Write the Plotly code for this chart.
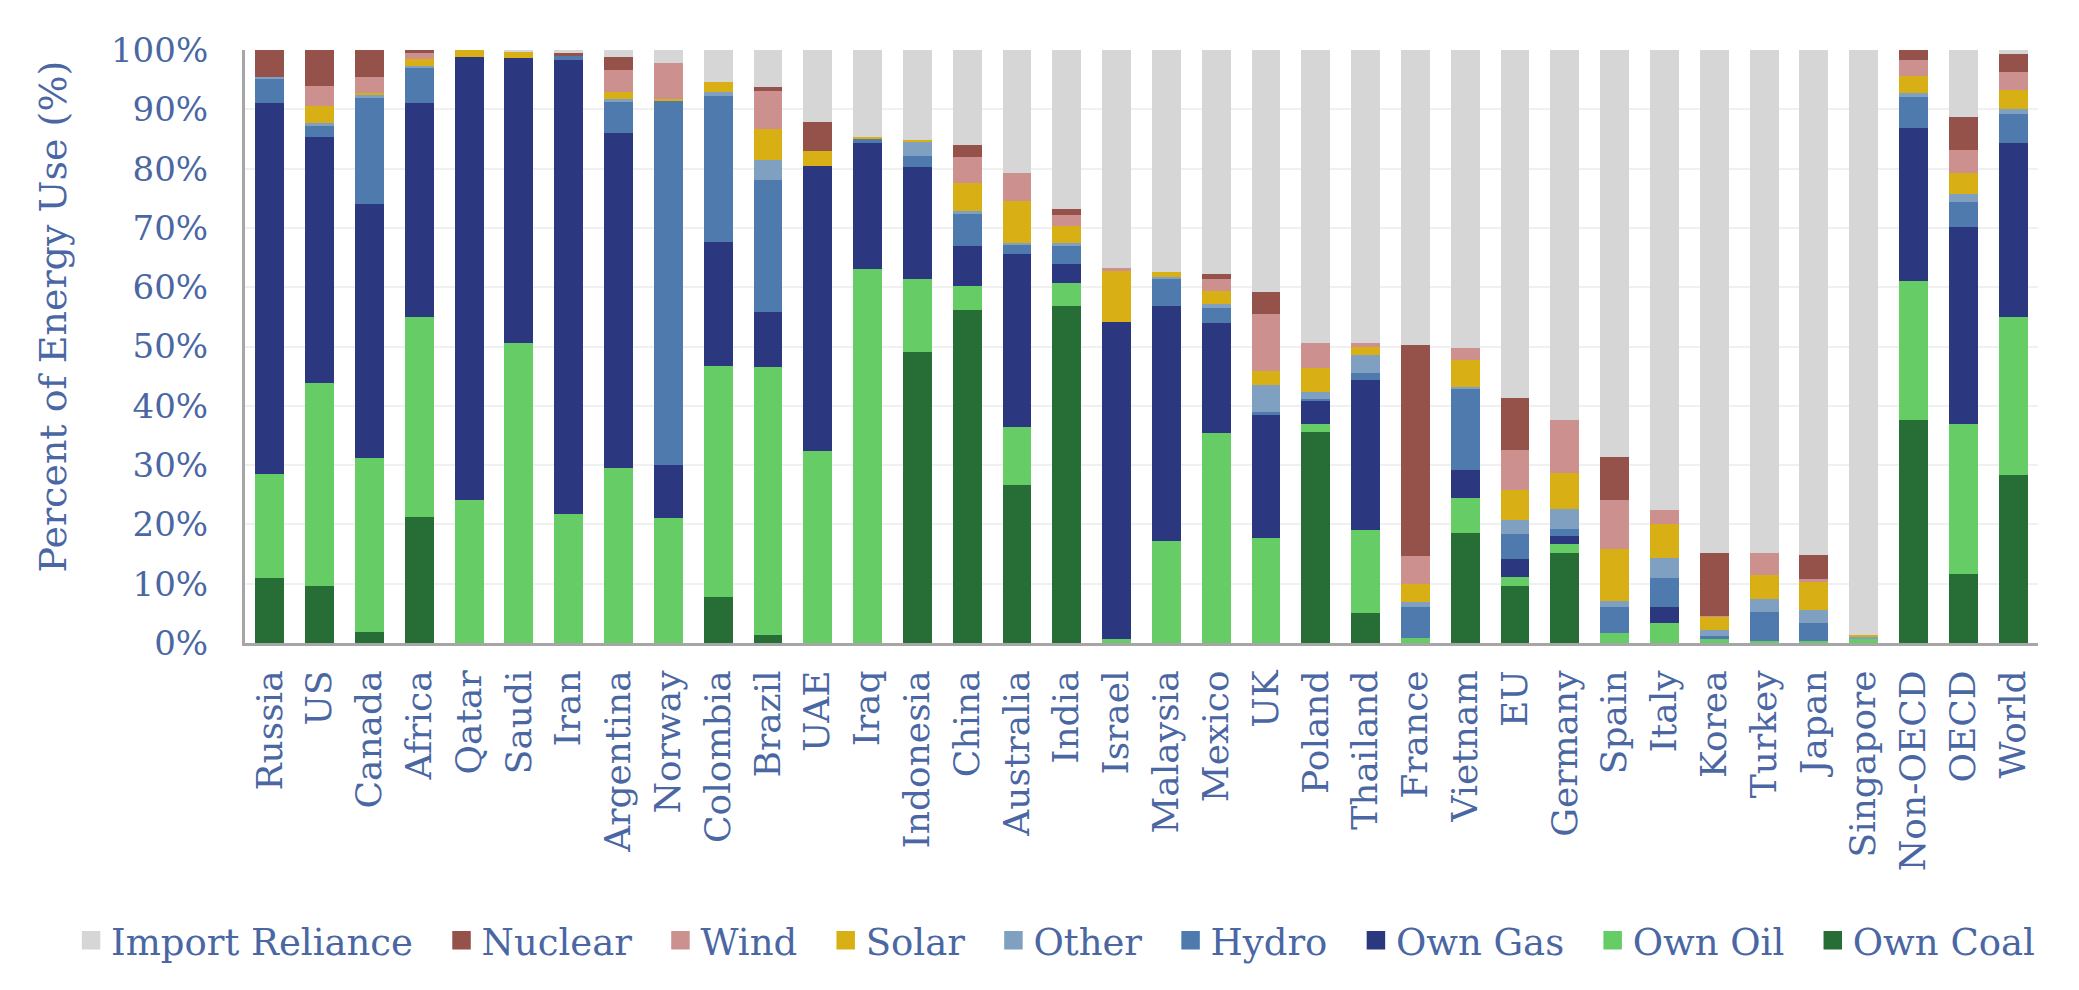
import plotly.graph_objects as go

categories = ["Russia", "US", "Canada", "Africa", "Qatar", "Saudi", "Iran", "Argentina", "Norway",
              "Colombia", "Brazil", "UAE", "Iraq", "Indonesia", "China", "Australia", "India",
              "Israel", "Malaysia", "Mexico", "UK", "Poland", "Thailand", "France", "Vietnam",
              "EU", "Germany", "Spain", "Italy", "Korea", "Turkey", "Japan", "Singapore",
              "Non-OECD", "OECD", "World"]

own_coal = [11.0, 9.6, 1.8, 21.3, 0, 0, 0, 0, 0, 7.7, 1.3, 0, 0, 49.1, 56.1, 26.7, 56.9, 0, 0, 0,
            0, 35.6, 5.0, 0, 18.6, 9.6, 15.1, 0, 0, 0, 0, 0, 0, 37.6, 11.6, 28.3]
own_oil = [17.5, 34.2, 29.4, 33.7, 24.1, 50.6, 21.7, 29.5, 21.0, 39.0, 45.2, 32.4, 63.0, 12.2, 4.1,
           9.7, 3.8, 0.6, 17.2, 35.4, 17.7, 1.4, 14.1, 0.8, 5.8, 1.5, 1.6, 1.7, 3.4, 0.8, 0.3, 0.3,
           0.8, 23.4, 25.3, 26.7]
own_gas = [62.6, 41.6, 42.9, 36.1, 74.7, 48.0, 76.6, 56.5, 9.0, 21.0, 9.3, 48.0, 21.3, 18.9, 6.7,
           29.2, 3.2, 53.6, 39.6, 18.6, 20.8, 3.9, 25.3, 0, 4.8, 3.0, 1.3, 0, 2.6, 0, 0, 0, 0,
           25.8, 33.2, 29.3]
hydro = [4.1, 1.8, 17.8, 5.8, 0, 0, 0.7, 5.3, 61.4, 24.5, 22.3, 0, 0.7, 1.9, 5.5, 1.5, 3.1, 0, 4.6,
         2.5, 0.5, 0.3, 1.1, 5.2, 13.7, 4.3, 1.3, 4.4, 4.9, 0.3, 5.0, 3.1, 0, 5.3, 4.3, 4.9]
other = [0.3, 0.5, 0.5, 0.4, 0, 0, 0, 0.4, 0, 0.8, 3.4, 0, 0, 2.5, 0.5, 0.4, 0.5, 0, 0.4, 0.6, 4.5,
         1.2, 3.1, 0.9, 0.2, 2.4, 3.3, 0.9, 3.4, 1.1, 2.1, 2.2, 0.2, 0.7, 1.4, 0.9]
solar = [0, 2.9, 0.4, 1.2, 1.2, 1.1, 0, 1.3, 0.3, 1.6, 5.1, 2.5, 0.4, 0.2, 4.7, 7.1, 2.9, 8.5, 0.8,
         2.3, 2.3, 4.0, 1.4, 3.0, 4.6, 5.0, 6.1, 8.8, 5.7, 2.2, 4.1, 4.7, 0.4, 2.9, 3.4, 3.2]
wind = [0, 3.4, 2.7, 1.0, 0, 0, 0, 3.7, 6.1, 0, 6.5, 0, 0, 0, 4.4, 4.7, 1.7, 0.5, 0, 2.0, 9.6, 4.2,
        0.6, 4.7, 2.0, 6.7, 8.9, 8.3, 2.5, 0.2, 3.7, 0.5, 0, 2.6, 3.9, 3.0]
nuclear = [4.5, 6.0, 4.5, 0.5, 0, 0, 0.5, 2.1, 0, 0, 0.7, 5.0, 0, 0, 1.9, 0, 1.1, 0, 0, 0.8, 3.8, 0,
           0, 35.7, 0, 8.8, 0, 7.2, 0, 10.5, 0, 4.0, 0, 1.7, 5.6, 3.1]
import_reliance = [0, 0, 0, 0, 0, 0.3, 0.5, 1.2, 2.2, 5.4, 6.2, 12.1, 14.6, 15.2, 16.1, 20.7, 26.8,
                   36.8, 37.4, 37.8, 40.8, 49.4, 49.4, 49.7, 50.3, 58.7, 62.4, 68.7, 77.5, 84.9,
                   84.8, 85.2, 98.6, 0, 11.3, 0.6]

y_ticks = [0, 10, 20, 30, 40, 50, 60, 70, 80, 90, 100]
y_tick_labels = ["0%", "10%", "20%", "30%", "40%", "50%", "60%", "70%", "80%", "90%", "100%"]

series = [
    ("Own Coal", own_coal, "#276e36"),
    ("Own Oil", own_oil, "#66cc66"),
    ("Own Gas", own_gas, "#2b377f"),
    ("Hydro", hydro, "#4f7aae"),
    ("Other", other, "#7fa0c0"),
    ("Solar", solar, "#d8b016"),
    ("Wind", wind, "#cc918e"),
    ("Nuclear", nuclear, "#94524a"),
    ("Import Reliance", import_reliance, "#d6d6d6"),
]

TEXT = "#4a67a3"
FONT = "DejaVu Serif"

fig = go.Figure()
for name, vals, col in series:
    fig.add_trace(go.Bar(x=categories, y=vals, name=name, marker=dict(color=col, line=dict(width=0)),
                         showlegend=False))

# legend entries (larger square swatches), listed top-of-stack first
for name, vals, col in reversed(series):
    fig.add_trace(go.Scatter(x=[None], y=[None], mode="markers", name=name + "\u00a0\u00a0",
                             marker=dict(symbol="square", size=16, color=col,
                                         line=dict(color=col, width=2.5))))

fig.update_layout(
    width=2079, height=990,
    margin=dict(l=245, r=41, t=50, b=347),
    barmode="stack", bargap=0.42,
    plot_bgcolor="white", paper_bgcolor="white",
    font=dict(family=FONT, color=TEXT, size=34),
    showlegend=True,
    legend=dict(orientation="h", x=-0.097, xanchor="left", y=-0.502, yanchor="middle",
                font=dict(family=FONT, size=37, color=TEXT), traceorder="normal",
                itemsizing="trace", bgcolor="rgba(0,0,0,0)"),
    annotations=[dict(text="Percent of Energy Use (%)", textangle=-90, xref="paper", yref="paper",
                      x=-0.107, y=0.551, xanchor="center", yanchor="middle", showarrow=False,
                      font=dict(family=FONT, size=38, color=TEXT))],
)
fig.update_xaxes(type="category", tickangle=-90, showline=True, linecolor="#a6a6a6", linewidth=3,
                 showgrid=False, ticks="", tickfont=dict(family=FONT, size=36, color=TEXT),
                 ticklabelstandoff=10, automargin=False)
fig.update_yaxes(range=[0, 100], tickvals=y_ticks, ticktext=y_tick_labels, showline=True,
                 linecolor="#a6a6a6", linewidth=3, showgrid=True, gridcolor="#f0f0f0", gridwidth=1.5,
                 zeroline=False, ticks="", tickfont=dict(family=FONT, size=34, color=TEXT),
                 ticklabelstandoff=27, automargin=False)

fig.write_html("out.html")
